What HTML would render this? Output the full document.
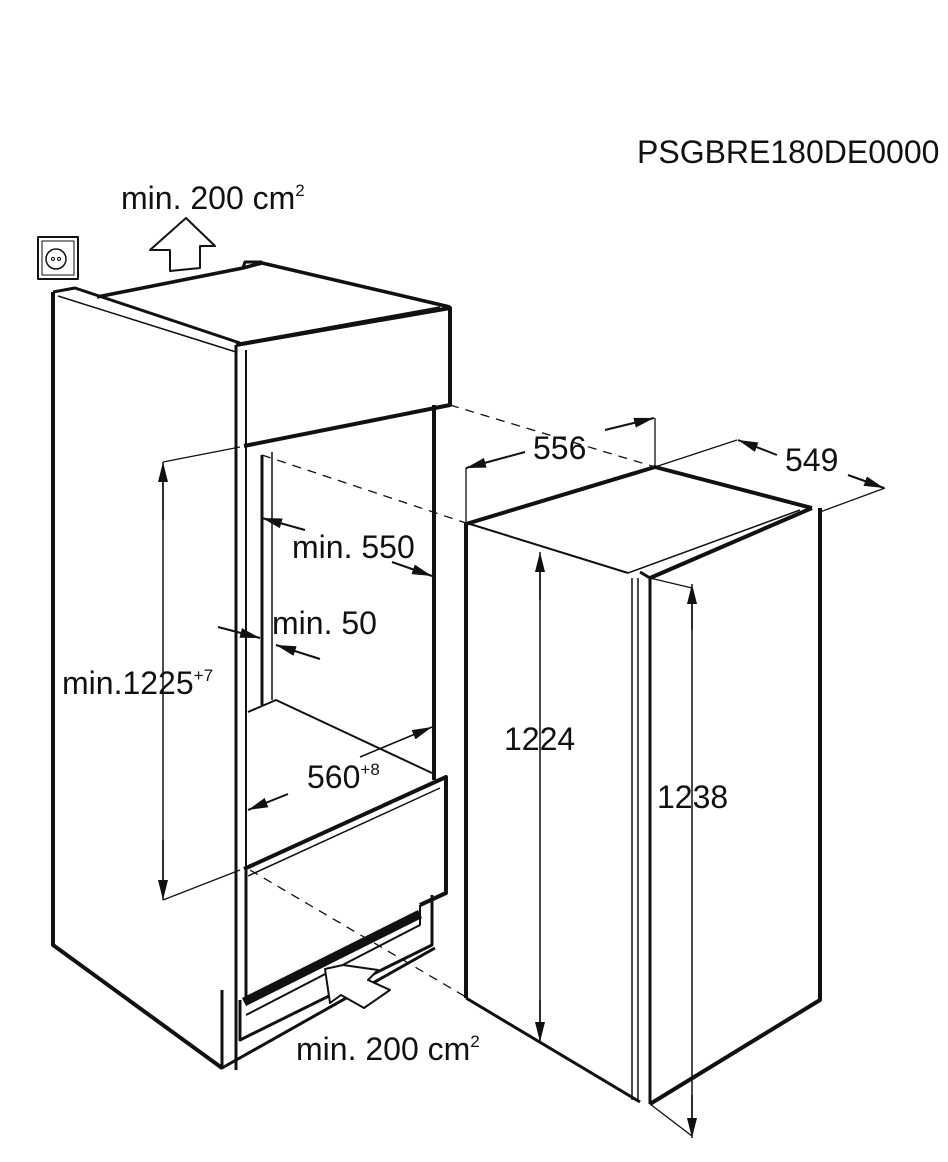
<!DOCTYPE html>
<html><head><meta charset="utf-8"><style>
html,body{margin:0;padding:0;background:#fff;width:948px;height:1162px;overflow:hidden}
svg{display:block}
text{font-family:"Liberation Sans",sans-serif;fill:#111}
</style></head><body>
<svg width="948" height="1162" viewBox="0 0 948 1162" xmlns="http://www.w3.org/2000/svg">
<defs>
<marker id="b" viewBox="0 0 20 10" markerWidth="20" markerHeight="10" refX="20" refY="5" orient="auto" markerUnits="userSpaceOnUse"><path d="M0,0 L20,5 L0,10z" fill="#111"/></marker>
</defs>
<g stroke="#111" fill="none" stroke-linejoin="round">
<rect x="38" y="237" width="40" height="42" stroke-width="2"/>
<rect x="42" y="241" width="32" height="34" stroke-width="1"/>
<circle cx="56" cy="259" r="10" stroke-width="1.5"/>
<circle cx="53" cy="259" r="1.5"/><circle cx="59" cy="259" r="1.5"/>
<path d="M170,271 L170,250 L150,250 L186,218 L215,246 L200,246 L200,268 Z" stroke-width="2" fill="#fff"/>
<path d="M53,292 L53,945 L222,1068" stroke-width="4"/>
<path d="M53,292 L75,288 L240,343" stroke-width="3"/>
<path d="M58,296 L236,352" stroke-width="1.5"/>
<path d="M97,297 L243,268 L262,263 L450,307" stroke-width="3.5"/>
<path d="M243,268 L245,262 L262,262" stroke-width="3"/>
<path d="M240,343 L440,307" stroke-width="1.5"/>
<path d="M236,345 L450,308 L450,405 L244,446" stroke-width="4"/>
<path d="M236,345 L236,1070" stroke-width="3"/>
<path d="M246,350 L246,870" stroke-width="2"/>
<path d="M262,455 L262,705" stroke-width="3"/>
<path d="M272,452 L272,700" stroke-width="1.5"/>
<path d="M434,405 L434,780" stroke-width="4"/>
<path d="M248,712 L276,700 L432,773" stroke-width="2"/>
<path d="M244,869 L446,777 L446,893 L420,905" stroke-width="4"/>
<path d="M248,876 L440,788" stroke-width="1.5"/>
<path d="M246,870 L246,1000" stroke-width="3"/>
<path d="M244,1002 L420,914" stroke-width="9"/>
<path d="M420,905 L420,925 L246,1015" stroke-width="2"/>
<path d="M432,895 L432,945 L240,1040 L240,1000" stroke-width="3"/>
<path d="M222,990 L222,1068 L435,948" stroke-width="3"/>
<path d="M325,969 L330,1003 L341,995 L364,1008 L390,990 L368,980 L378,970 L343,965 Z" stroke-width="2" fill="#fff"/>
<path d="M450,405 L655,467" stroke-width="1.3" stroke-dasharray="9,7"/>
<path d="M262,455 L466,523" stroke-width="1.3" stroke-dasharray="9,7"/>
<path d="M250,870 L466,997" stroke-width="1.3" stroke-dasharray="9,7"/>
<path d="M163,462 L240,447" stroke-width="1.3"/>
<path d="M163,900 L240,870" stroke-width="1.3"/>
<path d="M163,470 L163,895" stroke-width="1.5"/>
<path d="M163,520 L163,462" stroke-width="1.5" marker-end="url(#b)"/>
<path d="M163,840 L163,900" stroke-width="1.5" marker-end="url(#b)"/>
<path d="M305,530 L262,518" stroke-width="2" marker-end="url(#b)"/>
<path d="M392,562 L432,576" stroke-width="2" marker-end="url(#b)"/>
<path d="M218,627 L260,638" stroke-width="2" marker-end="url(#b)"/>
<path d="M320,659 L276,645" stroke-width="2" marker-end="url(#b)"/>
<path d="M360,757 L432,727" stroke-width="1.5" marker-end="url(#b)"/>
<path d="M288,794 L248,810" stroke-width="2" marker-end="url(#b)"/>
<path d="M466,998 L466,524 L655,467 L812,508" stroke-width="4"/>
<path d="M470,524 L628,573" stroke-width="2"/>
<path d="M628,573 L800,510" stroke-width="1.5"/>
<path d="M650,578 L812,508" stroke-width="4"/>
<path d="M640,572 L650,578 L650,1104" stroke-width="3"/>
<path d="M632,578 L632,1100 M638,578 L638,1102" stroke-width="1.5"/>
<path d="M820,508 L820,1000 L650,1104" stroke-width="4"/>
<path d="M466,998 L640,1102" stroke-width="3"/>
<path d="M466,523 L466,468 M655,467 L655,418" stroke-width="1.3"/>
<path d="M525,452 L466,468" stroke-width="2" marker-end="url(#b)"/>
<path d="M605,430 L654,418" stroke-width="2" marker-end="url(#b)"/>
<path d="M655,467 L737,440 M820,512 L885,488" stroke-width="1.3"/>
<path d="M777,455 L738,440" stroke-width="2" marker-end="url(#b)"/>
<path d="M848,475 L884,488" stroke-width="2" marker-end="url(#b)"/>
<path d="M540,560 L540,1040" stroke-width="1.5"/>
<path d="M540,600 L540,552" stroke-width="1.5" marker-end="url(#b)"/>
<path d="M540,1000 L540,1042" stroke-width="1.5" marker-end="url(#b)"/>
<path d="M650,578 L692,588" stroke-width="1.3"/>
<path d="M650,1104 L692,1136" stroke-width="1.3"/>
<path d="M692,590 L692,1135" stroke-width="1.5"/>
<path d="M692,630 L692,584" stroke-width="1.5" marker-end="url(#b)"/>
<path d="M692,1095 L692,1138" stroke-width="1.5" marker-end="url(#b)"/>
</g>
<g font-size="32">
<text x="637" y="163" font-size="32">PSGBRE180DE0000</text>
<text x="121" y="209">min. 200 cm<tspan font-size="17" dy="-13">2</tspan></text>
<text x="292" y="558">min. 550</text>
<text x="272" y="634">min. 50</text>
<text x="62" y="694">min.1225<tspan font-size="17" dy="-13">+7</tspan></text>
<text x="307" y="788">560<tspan font-size="17" dy="-13">+8</tspan></text>
<text x="504" y="750">1224</text>
<text x="657" y="808">1238</text>
<text x="533" y="459">556</text>
<text x="785" y="471">549</text>
<text x="296" y="1060">min. 200 cm<tspan font-size="17" dy="-13">2</tspan></text>
</g>
</svg>
</body></html>
